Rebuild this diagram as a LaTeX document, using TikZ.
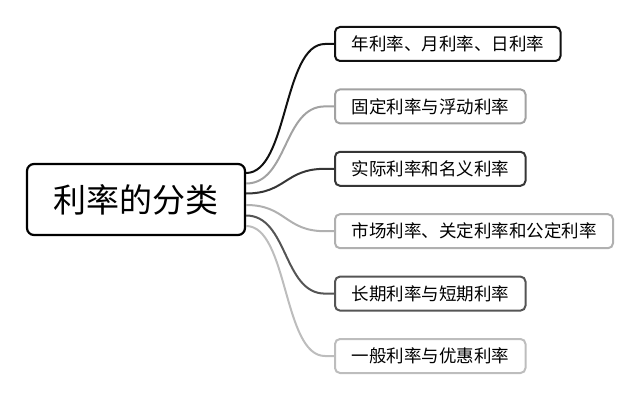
\documentclass[tikz,border=0pt]{standalone}
\usepackage{fontspec}
\setmainfont{Noto Sans CJK SC}
\usepackage{tikz}
\usetikzlibrary{positioning,calc}
\definecolor{inkA}{HTML}{111111}
\definecolor{inkB}{HTML}{A2A2A2}
\definecolor{inkC}{HTML}{363636}
\definecolor{inkD}{HTML}{B0B0B0}
\definecolor{inkE}{HTML}{555555}
\definecolor{inkF}{HTML}{BDBDBD}
\tikzset{
	x=1pt, y=1pt,
	root node/.style = {rectangle, draw, rounded corners=7pt, line width=2.2pt, minimum width=218pt, minimum height=71pt, inner sep=0pt, font=\fontsize{33}{33}\selectfont}, % the central topic
	leaf node/.style = {rectangle, draw, rounded corners=5pt, line width=2pt, minimum height=34pt, inner xsep=16.5pt, inner ysep=0pt, text=black, font=\fontsize{17.5}{17.5}\selectfont}, % the branches on the right
	my edge/.style = {-, line width=2pt}
}

\begin{document}
\begin{tikzpicture}
            \useasboundingbox (0,0) rectangle (640,400);
            \node[root node] (0) at (136,200.5) {利率的分类};
            \node[leaf node, draw=inkA, anchor=west] (1) at (334,356) {年利率、月利率、日利率};
            \node[leaf node, draw=inkB, below=26.4pt of 1.south west, anchor=north west] (2) {固定利率与浮动利率};
            \node[leaf node, draw=inkC, below=26.4pt of 2.south west, anchor=north west] (3) {实际利率和名义利率};
            \node[leaf node, draw=inkD, below=26.4pt of 3.south west, anchor=north west] (4) {市场利率、关定利率和公定利率};
            \node[leaf node, draw=inkE, below=26.4pt of 4.south west, anchor=north west] (5) {长期利率与短期利率};
            \node[leaf node, draw=inkF, below=26.4pt of 5.south west, anchor=north west] (6) {一般利率与优惠利率};
            \draw[my edge, inkA] ([yshift=26.5pt]0.east) .. controls +(42,0) and +(-42,0) .. ([xshift=-9pt]1.west) -- (1.west);
            \draw[my edge, inkB] ([yshift=16pt]0.east) .. controls +(42,0) and +(-42,0) .. ([xshift=-9pt]2.west) -- (2.west);
            \draw[my edge, inkC] ([yshift=6pt]0.east) .. controls +(40,0) and +(-40,0) .. ([xshift=-9pt]3.west) -- (3.west);
            \draw[my edge, inkD] ([yshift=-5.5pt]0.east) .. controls +(40,0) and +(-40,0) .. ([xshift=-9pt]4.west) -- (4.west);
            \draw[my edge, inkE] ([yshift=-16pt]0.east) .. controls +(42,0) and +(-42,0) .. ([xshift=-9pt]5.west) -- (5.west);
            \draw[my edge, inkF] ([yshift=-26.5pt]0.east) .. controls +(42,0) and +(-42,0) .. ([xshift=-9pt]6.west) -- (6.west);
\end{tikzpicture}
\end{document}
